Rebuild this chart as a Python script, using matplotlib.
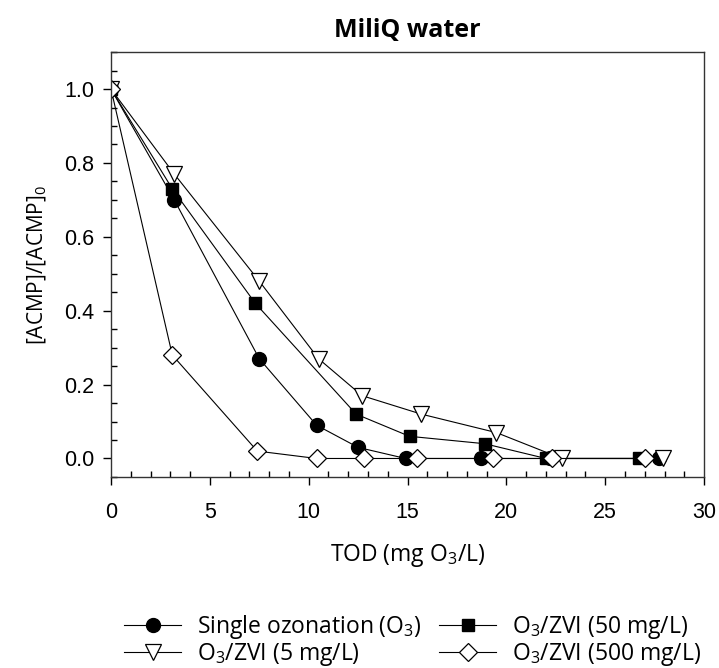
import numpy as np
import matplotlib.pyplot as plt
from matplotlib.ticker import MultipleLocator

plt.rcParams['mathtext.fontset'] = 'custom'
plt.rcParams['mathtext.rm'] = 'Open Sans'
plt.rcParams['mathtext.it'] = 'Open Sans'

# TOD (mg O3/L) and [ACMP]/[ACMP]0
x_o3 = [0, 3.2, 7.5, 10.4, 12.5, 14.9, 18.7, 22.2, 27.7]
y_o3 = [1.0, 0.70, 0.27, 0.09, 0.03, 0.0, 0.0, 0.0, 0.0]

x_zvi50 = [0, 3.1, 7.3, 12.4, 15.1, 18.9, 22.0, 26.7]
y_zvi50 = [1.0, 0.73, 0.42, 0.12, 0.06, 0.04, 0.0, 0.0]

x_zvi5 = [0, 3.2, 7.5, 10.5, 12.7, 15.7, 19.5, 22.8, 27.9]
y_zvi5 = [1.0, 0.77, 0.48, 0.27, 0.17, 0.12, 0.07, 0.0, 0.0]

x_zvi500 = [0, 3.1, 7.4, 10.4, 12.8, 15.5, 19.3, 22.3, 27.0]
y_zvi500 = [1.0, 0.28, 0.02, 0.0, 0.0, 0.0, 0.0, 0.0, 0.0]

labels = ['Single ozonation (O$_3$)', 'O$_3$/ZVI (50 mg/L)',
          'O$_3$/ZVI (5 mg/L)', 'O$_3$/ZVI (500 mg/L)']

fig = plt.figure(figsize=(7.19, 6.68), dpi=100)
ax = fig.add_axes([0.1544, 0.286, 0.8248, 0.636])

lw = 0.8
h1, = ax.plot(x_o3, y_o3, '-o', color='black', lw=lw, ms=10,
              mfc='black', mec='black', label=labels[0])
h2, = ax.plot(x_zvi50, y_zvi50, '-s', color='black', lw=lw, ms=9,
              mfc='black', mec='black', label=labels[1])
h3, = ax.plot(x_zvi5, y_zvi5, '-v', color='black', lw=lw, ms=11.5,
              mfc='white', mec='black', mew=0.9, label=labels[2])
h4, = ax.plot(x_zvi500, y_zvi500, '-D', color='black', lw=lw, ms=9,
              mfc='white', mec='black', mew=0.9, label=labels[3])

ax.set_xlim(0, 30)
ax.set_ylim(-0.05, 1.1)
ax.xaxis.set_major_locator(MultipleLocator(5))
ax.xaxis.set_minor_locator(MultipleLocator(1))
ax.set_yticks([0.0, 0.2, 0.4, 0.6, 0.8, 1.0])
ax.set_yticklabels(['0.0', '0.2', '0.4', '0.6', '0.8', '1.0'])
ax.yaxis.set_minor_locator(MultipleLocator(0.05))
ax.tick_params(which='major', direction='out', length=6, width=1,
               labelsize=15.5)
ax.tick_params(axis='x', which='major', pad=12)
ax.tick_params(axis='y', which='major', pad=6)
ax.tick_params(which='minor', direction='in', length=4, width=1)
for lab in ax.get_xticklabels() + ax.get_yticklabels():
    lab.set_family('Liberation Sans')
for s in ax.spines.values():
    s.set_linewidth(1)
    s.set_color('#333333')

ax.set_xlabel('TOD (mg O$_3$/L)', fontsize=16.5, family='Open Sans', labelpad=14)
ax.set_ylabel('[ACMP]/[ACMP]$_0$', fontsize=15, family='Open Sans',
              labelpad=11)
ax.set_title('MiliQ water', fontsize=18, fontweight='bold', family='Open Sans',
             pad=11)

leg = fig.legend(handles=[h1, h3, h2, h4], ncol=2, loc='center',
                 bbox_to_anchor=(0.574, 0.041), frameon=False,
                 prop={'family': 'Open Sans', 'size': 16.5},
                 handlelength=2.5, columnspacing=0.75, labelspacing=0.0,
                 handletextpad=0.7)

fig.savefig('out.png', dpi=100)
